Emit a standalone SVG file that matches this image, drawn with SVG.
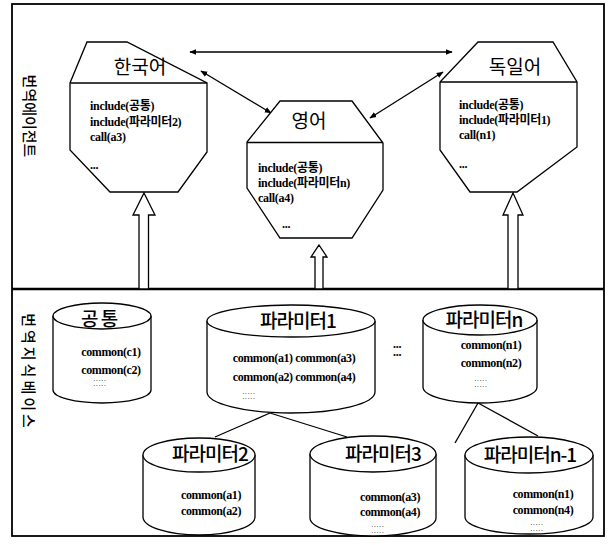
<svg xmlns="http://www.w3.org/2000/svg" width="609" height="545" viewBox="0 0 609 545">
<defs>
<marker id="ah" viewBox="0 0 10 10" refX="9" refY="5" markerWidth="7" markerHeight="7" orient="auto-start-reverse" markerUnits="userSpaceOnUse">
<path d="M0,1 L10,5 L0,9 Z" fill="#000"/>
</marker>
<style>
.sh{fill:#fff;stroke:#000;stroke-width:1.3}
.ln{fill:none;stroke:#000;stroke-width:1.3}
.ttl{font-family:"Noto Sans CJK KR","Noto Sans",sans-serif;font-size:19px;fill:#000;text-anchor:middle}
.ctl{font-family:"Noto Sans CJK KR","Noto Sans",sans-serif;font-size:19px;font-weight:500;fill:#000;text-anchor:middle;letter-spacing:-1px}
.bd{font-family:"Liberation Serif","Noto Sans CJK KR",serif;font-size:12px;font-weight:bold;fill:#000;letter-spacing:-0.3px}
.cm{font-family:"Liberation Serif","Noto Sans CJK KR",serif;font-size:12px;font-weight:bold;fill:#000;text-anchor:middle;letter-spacing:-0.4px}
.dt{font-family:"Liberation Serif",serif;font-size:7px;fill:#000;text-anchor:middle;letter-spacing:0.9px}
.vl{font-family:"Noto Sans CJK KR","Noto Sans",sans-serif;font-size:15px;font-weight:500;fill:#000;text-anchor:middle;dominant-baseline:central}
</style>
</defs>

<g id="frame">
<rect x="12" y="4" width="592" height="532" fill="none" stroke="#000" stroke-width="1.8"/>
<line x1="12" y1="289" x2="604" y2="289" stroke="#000" stroke-width="2.5"/>
<text class="vl" transform="translate(30,116) rotate(90)">번역에이전트</text>
<text class="vl" transform="translate(29,372) rotate(90)" letter-spacing="3">번역지식베이스</text>
</g>

<g id="connectors">
<line class="ln" x1="190" y1="52" x2="452" y2="52" marker-start="url(#ah)" marker-end="url(#ah)"/>
<line class="ln" x1="201" y1="71" x2="271" y2="113" marker-start="url(#ah)" marker-end="url(#ah)"/>
<line class="ln" x1="370" y1="118" x2="443" y2="72" marker-start="url(#ah)" marker-end="url(#ah)"/>
<polygon class="sh" points="144,193 155,215 148.5,215 148.5,289 139,289 139,215 133,215"/>
<polygon class="sh" points="319,245 327,257 323,257 323,289 315,289 315,257 311,257"/>
<polygon class="sh" points="513,193 523,215 518,215 518,289 508,289 508,215 503,215"/>
<line class="ln" x1="270" y1="413" x2="215" y2="437"/>
<line class="ln" x1="270" y1="413" x2="347" y2="437"/>
<line class="ln" x1="478" y1="403" x2="455" y2="443"/>
<line class="ln" x1="478" y1="403" x2="538" y2="436"/>
</g>

<g id="korean">
<polygon class="sh" points="87,42 127,42 207,83 207,152 178,192 110,192 70,150 70,83"/>
<line class="ln" x1="70" y1="83" x2="207" y2="83"/>
<text class="ttl" x="140" y="74">한국어</text>
<text class="bd" x="90" y="110">include(공통)</text>
<text class="bd" x="90" y="126">include(파라미터2)</text>
<text class="bd" x="90" y="141">call(a3)</text>
<text class="bd" x="90" y="169">...</text>
</g>

<g id="english">
<polygon class="sh" points="280,101 352,101 383,143 383,190 352,238 280,238 247,188 247,142"/>
<line class="ln" x1="247" y1="142.5" x2="383" y2="142.5"/>
<text class="ttl" x="309" y="128">영어</text>
<text class="bd" x="258" y="172">include(공통)</text>
<text class="bd" x="258" y="187">include(파라미터n)</text>
<text class="bd" x="258" y="202">call(a4)</text>
<text class="bd" x="282" y="228">...</text>
</g>

<g id="german">
<polygon class="sh" points="478,42 553,42 577,82 577,147 517,192 470,192 440,150 440,82"/>
<line class="ln" x1="440" y1="82" x2="577" y2="82"/>
<text class="ttl" x="515" y="74">독일어</text>
<text class="bd" x="459" y="109">include(공통)</text>
<text class="bd" x="459" y="124">include(파라미터1)</text>
<text class="bd" x="459" y="139">call(n1)</text>
<text class="bd" x="459" y="168">...</text>
</g>

<g id="common">
<path class="sh" d="M53,316 L53,390 A49,13 0 0 0 151,390 L151,316"/>
<ellipse class="sh" cx="102" cy="316" rx="49" ry="13"/>
<text class="ctl" x="99" y="326" letter-spacing="6">공 통</text>
<text class="cm" x="111" y="356">common(c1)</text>
<text class="cm" x="111" y="374">common(c2)</text>
<text class="dt" x="100" y="381">.....<tspan x="100" dy="5">.....</tspan></text>
</g>

<g id="param1">
<path class="sh" d="M207,321 L207,392 A84,21 0 0 0 375,392 L375,321"/>
<ellipse class="sh" cx="291" cy="321" rx="84" ry="16"/>
<text class="ctl" x="298" y="328">파라미터1</text>
<text class="cm" x="294" y="362">common(a1) common(a3)</text>
<text class="cm" x="294" y="381">common(a2) common(a4)</text>
<text class="dt" x="249" y="394">.....<tspan x="249" dy="5">.....</tspan></text>
</g>

<g id="ellipsis">
<text class="bd" x="393" y="348">...<tspan x="393" dy="8">...</tspan></text>
</g>

<g id="paramn">
<path class="sh" d="M423,320 L423,387 A57,16 0 0 0 537,387 L537,320"/>
<ellipse class="sh" cx="480" cy="320" rx="57" ry="15"/>
<text class="ctl" x="484" y="327">파라미터n</text>
<text class="cm" x="491" y="349">common(n1)</text>
<text class="cm" x="491" y="367">common(n2)</text>
<text class="dt" x="481" y="381">.....<tspan x="481" dy="6">.....</tspan></text>
</g>

<g id="param2">
<path class="sh" d="M143,455 L143,517 A56,18 0 0 0 255,517 L255,455"/>
<ellipse class="sh" cx="199" cy="455" rx="56" ry="17"/>
<text class="ctl" x="210" y="461">파라미터2</text>
<text class="cm" x="211" y="499">common(a1)</text>
<text class="cm" x="211" y="515">common(a2)</text>
</g>

<g id="param3">
<path class="sh" d="M310,454 L310,518 A63,18 0 0 0 436,518 L436,454"/>
<ellipse class="sh" cx="373" cy="454" rx="63" ry="18"/>
<text class="ctl" x="383" y="461">파라미터3</text>
<text class="cm" x="390" y="501">common(a3)</text>
<text class="cm" x="390" y="516">common(a4)</text>
<text class="dt" x="378" y="527">.....<tspan x="378" dy="6">.....</tspan></text>
</g>

<g id="paramn1">
<path class="sh" d="M465,455 L465,517 A64,17 0 0 0 593,517 L593,455"/>
<ellipse class="sh" cx="529" cy="455" rx="64" ry="18"/>
<text class="ctl" x="530" y="462">파라미터n-1</text>
<text class="cm" x="543" y="498">common(n1)</text>
<text class="cm" x="543" y="514">common(n4)</text>
<text class="dt" x="537" y="525">.....<tspan x="537" dy="6">.....</tspan></text>
</g>
</svg>
